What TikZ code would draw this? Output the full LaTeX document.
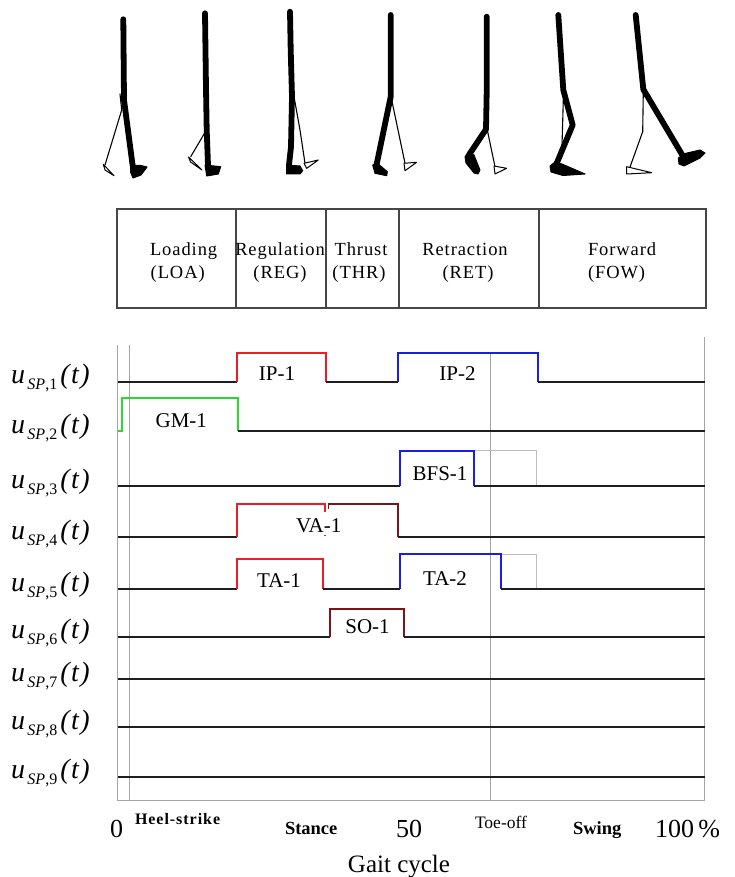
\documentclass[tikz,border=0pt]{standalone}
\usepackage{fontspec}
\setmainfont{Liberation Serif}
\newfontfamily\phasefont[LetterSpace=5]{Liberation Serif}
\newfontfamily\axisfont[LetterSpace=6]{Liberation Serif}

\definecolor{waveblack}{RGB}{30,30,30}
\definecolor{pulsered}{RGB}{235,30,35}
\definecolor{pulseblue}{RGB}{25,30,225}
\definecolor{pulsegreen}{RGB}{45,215,45}
\definecolor{pulsemaroon}{RGB}{120,22,25}
\definecolor{guidegray}{RGB}{165,165,165}
\definecolor{ghostgray}{RGB}{190,190,190}
\definecolor{framegray}{RGB}{70,70,70}

% u_{SP,k}(t) row label
\newcommand{\usplabel}[1]{\fontsize{28}{28}\selectfont\textit{u}\kern2.5pt\raisebox{-6pt}{\fontsize{16}{16}\selectfont\textit{SP},#1}\kern3pt\textit{(\kern1.5pt t\kern1.5pt)}}

\begin{document}
\begin{tikzpicture}[x=1pt,y=-1pt,
  every node/.style={inner sep=0pt, outer sep=0pt},
  wave/.style={line width=1.9pt, draw=waveblack, line join=miter},
  pulse red/.style={wave, draw=pulsered},
  pulse blue/.style={wave, draw=pulseblue},
  pulse green/.style={wave, draw=pulsegreen},
  pulse maroon/.style={wave, draw=pulsemaroon},
  guide/.style={line width=0.9pt, draw=guidegray},
  ghost/.style={line width=0.8pt, draw=ghostgray},
  frame/.style={line width=1.2pt, draw=framegray},
  tag/.style={font=\fontsize{21}{21}\selectfont, anchor=base},
  phase/.style={font=\fontsize{18.5}{18.5}\selectfont\phasefont, anchor=base},
  limb/.style={line width=5.8pt, line cap=round, line join=round},
  foot/.style={fill=black, draw=black, line width=1pt, line join=round},
  swing leg/.style={line width=1.1pt, line join=round, line cap=round},
  swing foot/.style={draw=black, fill=white, line width=1pt, line join=round},
]
\useasboundingbox (0,0) rectangle (734,877);

% ---------- stick figures over the gait cycle ----------
% 1: loading
\draw[swing leg] (120,94) -- (121.7,110) -- (105,165);
\draw[swing foot] (103.3,164.3) -- (114,175.7) -- (105,170) -- cycle;
\draw[limb] (123.3,19.3) -- (124,100) -- (132.7,166);
\filldraw[foot] (130.5,165) -- (141,165.5) -- (147,167) -- (141,175) -- (133,178) -- (130.5,172) -- cycle;
% 2: regulation
\draw[swing leg] (206,130.7) -- (190.7,156.7);
\draw[swing foot] (188.5,157) -- (202,170) -- (190.5,162) -- cycle;
\draw[limb] (205,13.3) -- (206,88.3) -- (206.7,130) -- (208,165);
\filldraw[foot] (205,165) -- (220.7,166.7) -- (218.3,174) -- (206.7,176) -- cycle;
% 3: thrust
\draw[swing leg] (294,96.7) -- (300,130) -- (305,163.3);
\draw[swing foot] (304,163.3) -- (318.3,160) -- (306.7,168.3) -- cycle;
\draw[limb] (290,11.7) -- (290.7,50) -- (292,96.7) -- (291,146.7) -- (289,165);
\filldraw[foot] (286.7,165) -- (300,166) -- (302.7,170.7) -- (300,174) -- (286.7,174) -- cycle;
% 4: push-off
\draw[swing leg] (391.7,100) -- (405,163.3);
\draw[swing foot] (404,163.3) -- (416.7,162.3) -- (405,170.7) -- cycle;
\draw[limb] (390.7,15) -- (390.7,96.7) -- (376.7,164);
\filldraw[foot] (372.7,165) -- (376.7,162.7) -- (387.3,171.7) -- (386.7,175.7) -- (375,173.3) -- cycle;
% 5: retraction
\draw[swing leg] (487.3,130) -- (495,166.7);
\draw[swing foot] (494,166) -- (506.7,168.3) -- (495,174) -- cycle;
\draw[limb] (486.7,16.7) -- (486.7,91.7) -- (486,129.3) -- (470,153.3);
\filldraw[foot] (465,157) -- (468,152) -- (474,155) -- (480,170) -- (478,174) -- (474,173) -- (466,163) -- cycle;
% 6: early swing
\draw[swing leg] (563.3,100) -- (561.7,156);
\draw[limb] (558.3,15) -- (563.3,90) -- (572.7,125) -- (556.7,163.3);
\filldraw[foot] (550,166) -- (555,162) -- (562,164) -- (585,174) -- (563,175.5) -- (551,172) -- cycle;
% 7: forward swing
\draw[swing leg] (643.3,90.7) -- (642.7,131.7) -- (630,167);
\draw[swing foot] (626.7,166.7) -- (651.7,172.7) -- (626.7,174) -- cycle;
\draw[limb] (635.7,15) -- (643.3,89.3) -- (683.3,156.7);
\filldraw[foot] (678.3,158) -- (685,153.5) -- (700,150) -- (705,153) -- (700,158) -- (684,166) -- (679,164) -- cycle;

% ---------- phase table ----------
\draw[frame] (117,209) rectangle (706,308);
\foreach \xd in {236,326,399,539} \draw[frame] (\xd,209) -- (\xd,308);

\node[phase, anchor=base west] (loa1) at (150,255) {Loading};
\node[phase, anchor=base west] (loa2) at (150.7,278) {(LOA)};
\node[phase] (reg1) at (280,255) {Regulation};
\node[phase] (reg2) at (280,278) {(REG)};
\node[phase] (thr1) at (361,255) {Thrust};
\node[phase] (thr2) at (359,278) {(THR)};
\node[phase] (ret1) at (465,255) {Retraction};
\node[phase] (ret2) at (468,278) {(RET)};
\node[phase, anchor=base west] (fow1) at (588,255) {Forward};
\node[phase, anchor=base west] (fow2) at (588,278) {(FOW)};

% ---------- timing chart ----------
\draw[guide] (117.3,345) -- (117.3,800);
\draw[guide] (129.5,345) -- (129.5,800);
\draw[guide] (490,352.7) -- (490,800);
\draw[guide] (704.5,337) -- (704.5,800);
\draw[guide] (117.3,800) -- (704.5,800);

% row labels
\foreach \k/\yr in {1/381.7,2/431,3/486,4/537.3,5/589.3,6/636.7,7/679,8/727,9/776.7}
  \node[anchor=base west] (lbl\k) at (11,\yr+2) {\usplabel{\k}};

% row 1
\draw[wave] (118,381.7) -- (237,381.7);
\draw[pulse red] (237,381.7) |- (325.7,352.7) -- (325.7,381.7);
\draw[wave] (325.7,381.7) -- (397.7,381.7);
\draw[pulse blue] (397.7,381.7) |- (537.7,352.7) -- (537.7,381.7);
\draw[wave] (537.7,381.7) -- (705,381.7);
% row 2
\draw[pulse green] (118,431) -- (121.7,431) |- (238,398) -- (238,431);
\draw[wave] (238,431) -- (705,431);
% row 3
\draw[wave] (118,486) -- (400,486);
\draw[ghost] (474,450.7) -| (536.7,486);
\draw[pulse blue] (400,486) |- (474,450.7) -- (474,486);
\draw[wave] (474,486) -- (705,486);
% row 4
\draw[wave] (118,537.3) -- (237.3,537.3);
\draw[pulse red] (237.3,537.3) |- (325,504) -- (325,509);
\draw[pulsered, line width=1.2pt, dashed] (325,509) -- (325,537);
\draw[pulse maroon] (328.5,509) |- (398.3,504) -- (398.3,537.3);
\draw[wave] (398.3,537.3) -- (705,537.3);
% row 5
\draw[wave] (118,589.3) -- (237.3,589.3);
\draw[pulse red] (237.3,589.3) |- (322.7,559.3) -- (322.7,589.3);
\draw[wave] (322.7,589.3) -- (400,589.3);
\draw[ghost] (500.7,554) -| (536.7,589.3);
\draw[pulse blue] (400,589.3) |- (500.7,554) -- (500.7,589.3);
\draw[wave] (500.7,589.3) -- (705,589.3);
% row 6
\draw[wave] (118,636.7) -- (330,636.7);
\draw[pulse maroon] (330,636.7) |- (404,609.3) -- (404,636.7);
\draw[wave] (404,636.7) -- (705,636.7);
% rows 7-9
\draw[wave] (118,679) -- (705,679);
\draw[wave] (118,727) -- (705,727);
\draw[wave] (118,776.7) -- (705,776.7);

% pulse tags
\node[tag] (ip1) at (277,380.3) {IP-1};
\node[tag] (ip2) at (457.5,380.3) {IP-2};
\node[tag] (gm1) at (181.3,427) {GM-1};
\node[tag] (bfs1) at (440,480.3) {BFS-1};
\node[tag, fill=white, inner ysep=3pt, inner xsep=1pt] (va1) at (318.8,532) {VA-1};
\node[tag] (ta1) at (279,587) {TA-1};
\node[tag] (ta2) at (445,585) {TA-2};
\node[tag] (so1) at (367.5,633.7) {SO-1};

% ---------- axis ----------
\node[anchor=base, font=\fontsize{26}{26}\selectfont] (x0) at (116.7,837) {0};
\node[anchor=base west, font=\fontsize{16}{16}\selectfont\axisfont\bfseries] (heel) at (135,824) {Heel-strike};
\node[anchor=base west, font=\fontsize{18.5}{18.5}\selectfont\bfseries] (stance) at (285,834) {Stance};
\node[anchor=base, font=\fontsize{26}{26}\selectfont] (x50) at (409,837) {50};
\node[anchor=base west, font=\fontsize{17.5}{17.5}\selectfont] (toe) at (475,828.3) {Toe-off};
\node[anchor=base west, font=\fontsize{18.5}{18.5}\selectfont\bfseries] (swing) at (573,834) {Swing};
\node[anchor=base west, font=\fontsize{26}{26}\selectfont] (x100) at (655,837) {100\,\%};
\node[anchor=base, font=\fontsize{25}{25}\selectfont] (gait) at (399,872) {Gait cycle};
\end{tikzpicture}
\end{document}
